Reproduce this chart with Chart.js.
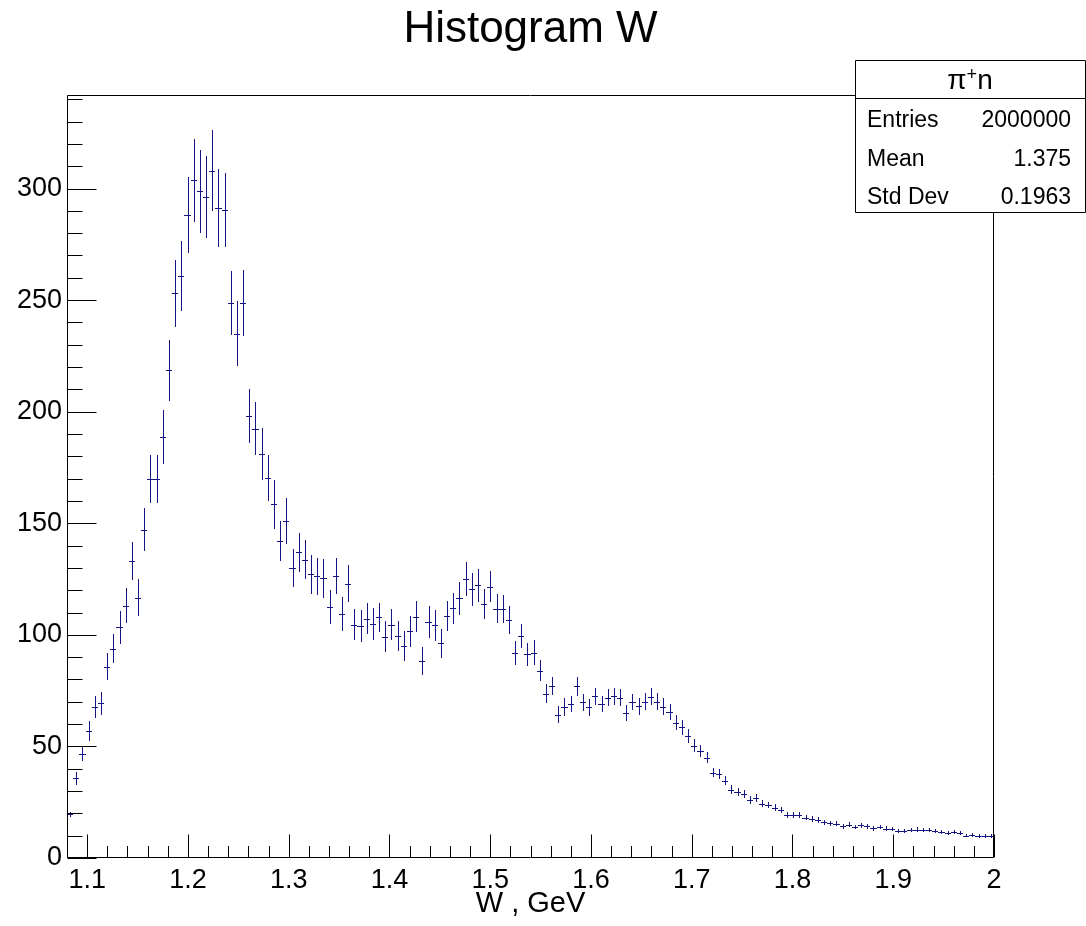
<!DOCTYPE html>
<html>
<head>
<meta charset="utf-8">
<title>Histogram W</title>
<script src="https://cdn.jsdelivr.net/npm/chart.js@4.4.1/dist/chart.umd.min.js"></script>
<style>
  html, body { margin: 0; padding: 0; background: #fff; }
</style>
</head>
<body>
<canvas id="myChart" width="1086" height="926"></canvas>
<script>
// binning of the histogram
let xMin = 1.08;
let xMax = 2.0;
let nBins = 150;

// bin contents
let counts = [
  19.5, 35.7, 46.8, 57.0, 67.5, 69.4, 85.8, 93.8, 103.4, 113.0,
  133.2, 116.6, 147.1, 169.8, 169.8, 188.7, 218.5, 253.0, 260.7, 288.0,
  303.7, 298.7, 296.2, 308.0, 291.2, 290.5, 248.8, 235.0, 248.8, 198.0,
  192.4, 181.0, 170.4, 158.5, 141.9, 151.1, 130.0, 137.0, 133.7, 127.1,
  126.2, 125.4, 112.4, 126.3, 109.4, 123.0, 104.6, 104.0, 107.3, 104.9,
  107.8, 99.2, 104.6, 99.5, 95.0, 101.5, 108.2, 88.3, 105.8, 104.3,
  96.2, 108.5, 111.9, 116.3, 125.1, 120.4, 122.2, 113.8, 121.5, 111.8,
  111.5, 106.7, 91.7, 99.5, 91.3, 92.0, 84.0, 73.7, 77.0, 64.2,
  67.5, 69.0, 77.0, 69.7, 67.5, 72.5, 69.0, 71.9, 72.5, 71.9,
  64.8, 69.9, 68.0, 70.1, 72.3, 70.1, 67.8, 65.3, 60.6, 58.5,
  54.7, 50.4, 48.0, 45.0, 38.3, 37.8, 34.6, 30.6, 29.5, 28.8,
  26.0, 26.9, 24.4, 23.8, 22.6, 21.4, 19.3, 19.3, 19.3, 18.1,
  17.5, 17.0, 16.0, 15.6, 15.4, 14.2, 14.9, 13.9, 14.7, 14.2,
  13.3, 13.9, 13.2, 13.1, 12.2, 12.0, 12.4, 12.7, 12.5, 12.4,
  12.1, 11.5, 11.2, 11.6, 11.2, 10.0, 10.4, 9.8, 9.8, 9.8
];

// half lengths of the error bars
let errors = [
  1.3, 2.8, 3.4, 4.5, 4.9, 5.2, 6.1, 6.6, 7.5, 7.8,
  8.5, 8.2, 9.6, 10.8, 10.8, 12.0, 13.5, 15.0, 15.6, 17.1,
  18.7, 18.6, 18.2, 18.3, 17.5, 16.5, 14.4, 14.4, 14.8, 12.1,
  12.0, 11.5, 10.3, 10.9, 8.9, 10.2, 8.4, 8.8, 8.7, 8.6,
  8.2, 8.7, 7.6, 8.1, 7.6, 8.1, 6.9, 7.2, 6.9, 7.0,
  6.6, 7.0, 7.0, 6.6, 6.6, 6.9, 7.0, 6.1, 7.0, 7.0,
  6.4, 6.7, 7.0, 7.2, 7.6, 7.3, 7.3, 6.6, 6.9, 6.4,
  6.3, 6.3, 5.4, 5.5, 5.2, 5.5, 4.5, 4.1, 3.9, 3.9,
  4.0, 3.7, 4.3, 3.8, 3.7, 3.9, 3.8, 3.9, 3.9, 3.9,
  3.6, 3.8, 3.7, 3.8, 3.9, 3.8, 3.7, 3.6, 3.4, 3.2,
  3.0, 2.8, 2.7, 2.5, 2.2, 2.2, 2.0, 1.9, 1.8, 1.8,
  1.6, 1.6, 1.5, 1.5, 1.4, 1.4, 1.3, 1.3, 1.3, 1.2,
  1.2, 1.2, 1.1, 1.1, 1.1, 1.0, 1.1, 1.0, 1.1, 1.0,
  1.0, 1.0, 1.0, 1.0, 0.9, 0.9, 0.9, 1.0, 0.9, 0.9,
  0.9, 0.9, 0.9, 0.9, 0.9, 0.8, 0.8, 0.8, 0.8, 0.8
];

let xTicks = [1.1, 1.2, 1.3, 1.4, 1.5, 1.6, 1.7, 1.8, 1.9, 2.0];
let xTickLabels = ['1.1', '1.2', '1.3', '1.4', '1.5', '1.6', '1.7', '1.8', '1.9', '2'];
let yTicks = [0, 50, 100, 150, 200, 250, 300];
let yTickLabels = ['0', '50', '100', '150', '200', '250', '300'];
let yMax = 341.9;

let statNames = ['Entries', 'Mean', 'Std Dev'];
let statValues = ['2000000', '1.375', '0.1963'];

let histColor = '#141482';
let fontFamily = "'Liberation Sans', Arial, Helvetica, sans-serif";

let binWidth = (xMax - xMin) / nBins;
let points = counts.map((c, i) => ({ x: xMin + (i + 0.5) * binWidth, y: c }));

// ROOT style frame, inward ticks and error bar crosses
let rootStyle = {
    id: 'rootStyle',
    afterDatasetsDraw(chart) {
        let ctx = chart.ctx;
        let sx = chart.scales.x;
        let sy = chart.scales.y;
        let { left, right, top, bottom } = chart.chartArea;
        let L = Math.round(left) + 0.5, R = Math.round(right) - 0.5;
        let T = Math.round(top) + 0.5, B = Math.round(bottom) - 0.5;

        ctx.save();
        ctx.lineWidth = 1;

        // crosses, one path each
        ctx.strokeStyle = histColor;
        let meta = chart.getDatasetMeta(0);
        meta.data.forEach((p, i) => {
            let x1 = Math.round(sx.getPixelForValue(xMin + i * binWidth));
            let x2 = Math.round(sx.getPixelForValue(xMin + (i + 1) * binWidth));
            let yy = Math.round(p.y) + 0.5;
            let xx = Math.round(p.x) + 0.5;
            ctx.beginPath();
            ctx.moveTo(x1, yy);
            ctx.lineTo(x2, yy);
            ctx.moveTo(xx, Math.round(sy.getPixelForValue(counts[i] + errors[i])));
            ctx.lineTo(xx, Math.round(sy.getPixelForValue(counts[i] - errors[i])));
            ctx.stroke();
        });

        // frame
        ctx.strokeStyle = '#000';
        ctx.beginPath();
        ctx.rect(L, T, R - L, B - T);
        ctx.stroke();

        // ticks
        ctx.beginPath();
        for (let v = 0; v <= yMax; v += 10) {
            let y = Math.round(sy.getPixelForValue(v)) + 0.5;
            let len = (v % 50 === 0) ? 29 : 15;
            ctx.moveTo(L, y);
            ctx.lineTo(L + len, y);
        }
        for (let k = 0; k <= 46; k++) {
            let v = xMin + k * 0.02;
            let x = Math.round(sx.getPixelForValue(v)) + 0.5;
            let isMajor = xTicks.some(t => Math.abs(t - v) < 1e-6);
            let len = isMajor ? 23 : 11.5;
            ctx.moveTo(x, B);
            ctx.lineTo(x, B - len);
        }
        ctx.stroke();
        ctx.restore();
    },
    afterDraw(chart) {
        let ctx = chart.ctx;
        // stats box
        let bx = 855.5, by = 60.5, bw = 230, bh = 152;
        ctx.save();
        ctx.fillStyle = '#fff';
        ctx.fillRect(bx, by, bw, bh);
        ctx.strokeStyle = '#000';
        ctx.lineWidth = 1;
        ctx.beginPath();
        ctx.rect(bx, by, bw, bh);
        ctx.moveTo(bx, 98.5);
        ctx.lineTo(bx + bw, 98.5);
        ctx.stroke();

        // header  pi+ n
        ctx.fillStyle = '#000';
        ctx.textBaseline = 'alphabetic';
        let big = '28px ' + fontFamily;
        let small = '18px ' + fontFamily;
        ctx.font = big;
        let wPi = ctx.measureText('π').width;
        let wN = ctx.measureText('n').width;
        ctx.font = small;
        let wPlus = ctx.measureText('+').width;
        let x0 = 970 - (wPi + wPlus + wN) / 2;
        ctx.font = big;
        ctx.textAlign = 'left';
        ctx.fillText('π', x0, 89);
        ctx.font = small;
        ctx.fillText('+', x0 + wPi, 80);
        ctx.font = big;
        ctx.fillText('n', x0 + wPi + wPlus, 89);

        // rows
        ctx.font = '23px ' + fontFamily;
        let baselines = [127, 166, 204];
        statNames.forEach((name, i) => {
            ctx.textAlign = 'left';
            ctx.fillText(name, 867, baselines[i]);
            ctx.textAlign = 'right';
            ctx.fillText(statValues[i], 1071, baselines[i]);
        });
        ctx.restore();
    }
};

let ctx = document.getElementById('myChart').getContext('2d');

let myChart = new Chart(ctx, {
    type: 'scatter',
    data: {
        datasets: [{
            label: 'W',
            data: points,
            pointRadius: 0,
            pointHoverRadius: 0,
            showLine: false,
            borderColor: histColor
        }]
    },
    plugins: [rootStyle],
    options: {
        responsive: false,
        devicePixelRatio: 1,
        animation: false,
        events: [],
        layout: { padding: { left: 0, right: 92, top: 0, bottom: 0 } },
        plugins: {
            legend: { display: false },
            tooltip: { enabled: false },
            title: {
                display: true,
                text: 'Histogram W',
                fullSize: false,
                color: '#000',
                font: { family: fontFamily, size: 44, weight: 'normal' },
                padding: { top: 3, bottom: 39.2 }
            }
        },
        scales: {
            x: {
                type: 'linear',
                min: xMin,
                max: xMax,
                grid: { display: false, drawTicks: false },
                border: { display: false },
                afterBuildTicks: (scale) => {
                    scale.ticks = xTicks.map(v => ({ value: v }));
                },
                afterFit: (scale) => { scale.height = 68; },
                ticks: {
                    autoSkip: false,
                    maxRotation: 0,
                    padding: 6,
                    color: '#000',
                    font: { family: fontFamily, size: 27 },
                    callback: (value, index) => xTickLabels[index]
                },
                title: {
                    display: true,
                    text: 'W , GeV',
                    color: '#000',
                    font: { family: fontFamily, size: 29 },
                    padding: { top: 0, bottom: 5 }
                }
            },
            y: {
                type: 'linear',
                min: 0,
                max: yMax,
                grid: { display: false, drawTicks: false },
                border: { display: false },
                afterBuildTicks: (scale) => {
                    scale.ticks = yTicks.map(v => ({ value: v }));
                },
                afterFit: (scale) => { scale.width = 67; },
                ticks: {
                    padding: 5,
                    color: '#000',
                    font: { family: fontFamily, size: 27 },
                    callback: (value, index) => yTickLabels[index]
                }
            }
        }
    }
});
</script>
</body>
</html>
